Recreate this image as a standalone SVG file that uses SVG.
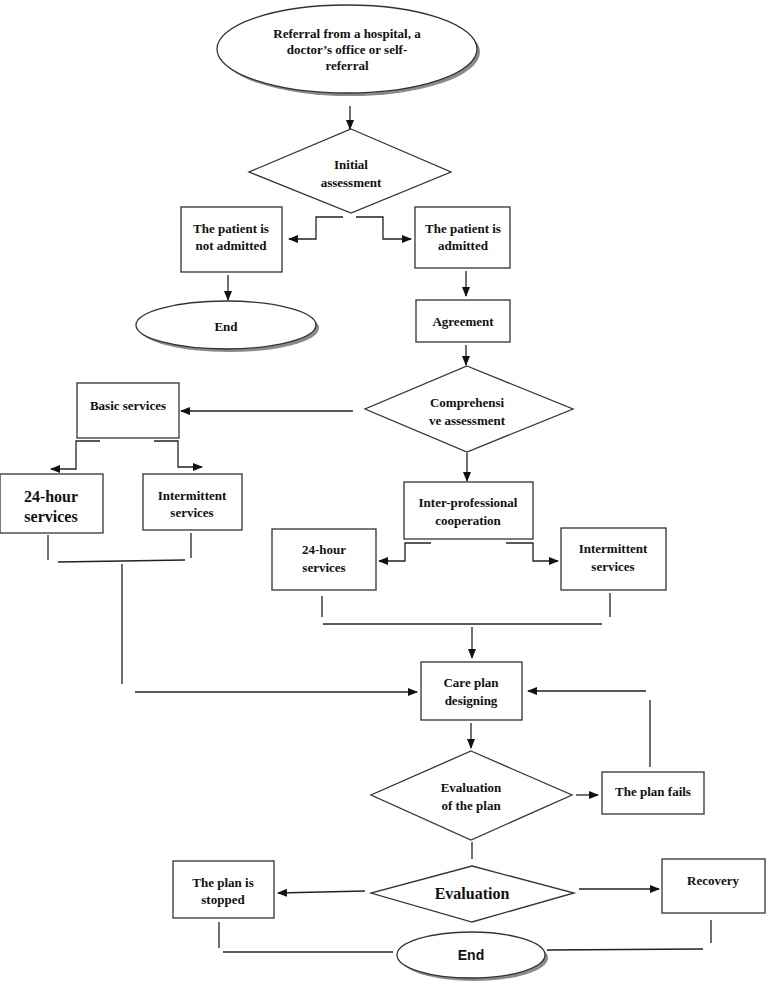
<svg xmlns="http://www.w3.org/2000/svg" width="772" height="981" viewBox="0 0 772 981">
<style>
.b{fill:#fff;stroke:#333;stroke-width:1.3}
.sh{fill:#8a8a8a;stroke:none}
.t{font-family:"Liberation Serif","Times New Roman",serif;font-weight:bold;font-size:13px;fill:#111;text-anchor:middle}
.ts{font-family:"Liberation Sans",Arial,sans-serif;font-weight:bold;font-size:14px;fill:#111;text-anchor:middle}
.c{fill:none;stroke:#222;stroke-width:1.3}
.a{fill:none;stroke:#222;stroke-width:1.3;marker-end:url(#ah)}
</style>
<defs>
<marker id="ah" markerWidth="10" markerHeight="10" refX="9" refY="5" orient="auto" markerUnits="userSpaceOnUse">
<path d="M0,1 L10,5 L0,9 Z" fill="#111"/>
</marker>
</defs>
<rect width="772" height="981" fill="#fff"/>

<g id="referral">
<ellipse class="sh" cx="350" cy="52" rx="130" ry="44"/>
<ellipse class="b" cx="347" cy="49" rx="130" ry="44"/>
<text class="t" x="347" y="38">Referral from a hospital, a</text>
<text class="t" x="347" y="54">doctor’s office or self-</text>
<text class="t" x="347" y="70">referral</text>
</g>

<g id="initial">
<polygon class="b" points="351,129 451,172 351,213 249,172"/>
<text class="t" x="351" y="169">Initial</text>
<text class="t" x="351" y="187">assessment</text>
</g>

<g id="notadmitted">
<rect class="b" x="181" y="207" width="101" height="65"/>
<text class="t" x="231" y="233">The patient is</text>
<text class="t" x="231" y="250">not admitted</text>
</g>

<g id="admitted">
<rect class="b" x="415" y="207" width="95" height="61"/>
<text class="t" x="463" y="233">The patient is</text>
<text class="t" x="463" y="250">admitted</text>
</g>

<g id="end1">
<ellipse class="sh" cx="229" cy="328" rx="90" ry="24"/>
<ellipse class="b" cx="226" cy="325" rx="90" ry="24"/>
<text class="t" x="226" y="331">End</text>
</g>

<g id="agreement">
<rect class="b" x="416" y="300" width="94" height="42"/>
<text class="t" x="463" y="326">Agreement</text>
</g>

<g id="comprehensive">
<polygon class="b" points="467,366 573,409 467,452 365,409"/>
<text class="t" x="467" y="407">Comprehensi</text>
<text class="t" x="467" y="425">ve assessment</text>
</g>

<g id="basic">
<rect class="b" x="77" y="383" width="102" height="55"/>
<text class="t" x="128" y="410">Basic services</text>
</g>

<g id="h24left">
<rect class="b" x="0" y="474" width="103" height="59"/>
<text class="t" x="51" y="502" style="font-size:16px">24-hour</text>
<text class="t" x="51" y="522" style="font-size:16px">services</text>
</g>

<g id="intleft">
<rect class="b" x="143" y="474" width="99" height="56"/>
<text class="t" x="192" y="500">Intermittent</text>
<text class="t" x="192" y="517">services</text>
</g>

<g id="interprof">
<rect class="b" x="404" y="482" width="129" height="57"/>
<text class="t" x="468" y="507">Inter-professional</text>
<text class="t" x="468" y="525">cooperation</text>
</g>

<g id="h24right">
<rect class="b" x="272" y="529" width="104" height="61"/>
<text class="t" x="324" y="554">24-hour</text>
<text class="t" x="324" y="572">services</text>
</g>

<g id="intright">
<rect class="b" x="561" y="528" width="105" height="62"/>
<text class="t" x="613" y="553">Intermittent</text>
<text class="t" x="613" y="571">services</text>
</g>

<g id="careplan">
<rect class="b" x="421" y="662" width="101" height="58"/>
<text class="t" x="471" y="687">Care plan</text>
<text class="t" x="471" y="705">designing</text>
</g>

<g id="evalplan">
<polygon class="b" points="471,751 572,795 471,840 371,795"/>
<text class="t" x="471" y="792">Evaluation</text>
<text class="t" x="471" y="810">of the plan</text>
</g>

<g id="planfails">
<rect class="b" x="602" y="772" width="102" height="42"/>
<text class="t" x="653" y="796">The plan fails</text>
</g>

<g id="evaluation">
<polygon class="b" points="472,866 574,893 472,922 371,893"/>
<text class="t" x="472" y="899" style="font-size:16px">Evaluation</text>
</g>

<g id="stopped">
<rect class="b" x="173" y="861" width="101" height="57"/>
<text class="t" x="223" y="887">The plan is</text>
<text class="t" x="223" y="904">stopped</text>
</g>

<g id="recovery">
<rect class="b" x="662" y="859" width="103" height="54"/>
<text class="t" x="713" y="885">Recovery</text>
</g>

<g id="end2">
<ellipse class="sh" cx="474" cy="958" rx="74" ry="23"/>
<ellipse class="b" cx="471" cy="955" rx="74" ry="23"/>
<text class="ts" x="471" y="960">End</text>
</g>

<g id="connectors">
<line class="a" x1="350" y1="106" x2="350" y2="129"/>
<polyline class="a" points="343,217 316,217 316,239 289,239"/>
<polyline class="a" points="356,217 383,217 383,239 411,239"/>
<line class="a" x1="228" y1="275" x2="228" y2="300"/>
<line class="a" x1="466" y1="271" x2="466" y2="296"/>
<line class="a" x1="466" y1="345" x2="466" y2="365"/>
<line class="a" x1="353" y1="411" x2="181" y2="411"/>
<polyline class="a" points="100,441 76,441 76,469 51,469"/>
<polyline class="a" points="154,441 178,441 178,467 202,467"/>
<line class="c" x1="48" y1="535" x2="48" y2="560"/>
<line class="c" x1="191" y1="533" x2="191" y2="558"/>
<line class="c" x1="58" y1="562" x2="185" y2="560"/>
<line class="c" x1="122" y1="564" x2="122" y2="684"/>
<line class="a" x1="135" y1="692" x2="417" y2="692"/>
<line class="a" x1="467" y1="453" x2="467" y2="481"/>
<polyline class="a" points="431,543 405,543 405,561 379,561"/>
<polyline class="a" points="506,543 533,543 533,561 558,561"/>
<line class="c" x1="322" y1="596" x2="322" y2="617"/>
<line class="c" x1="610" y1="593" x2="610" y2="617"/>
<line class="c" x1="323" y1="624" x2="602" y2="624"/>
<line class="a" x1="472" y1="627" x2="472" y2="658"/>
<line class="a" x1="471" y1="723" x2="471" y2="748"/>
<line class="a" x1="576" y1="795" x2="598" y2="795"/>
<line class="c" x1="650" y1="767" x2="650" y2="700"/>
<line class="a" x1="646" y1="691" x2="528" y2="691"/>
<line class="c" x1="472" y1="842" x2="472" y2="859"/>
<line class="a" x1="365" y1="891" x2="278" y2="893"/>
<line class="a" x1="579" y1="889" x2="659" y2="889"/>
<line class="c" x1="219" y1="922" x2="219" y2="948"/>
<line class="c" x1="223" y1="952" x2="393" y2="952"/>
<line class="c" x1="711" y1="920" x2="711" y2="943"/>
<line class="c" x1="547" y1="950" x2="703" y2="949"/>
</g>
</svg>
